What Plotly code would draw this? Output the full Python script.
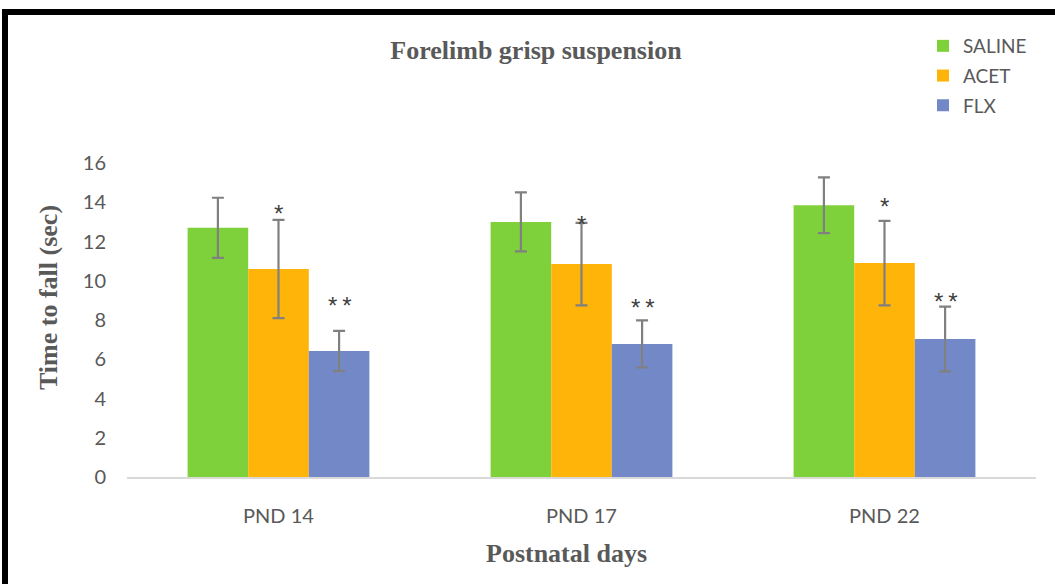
import plotly.graph_objects as go

categories = ["PND 14", "PND 17", "PND 22"]
series_names = ["SALINE", "ACET", "FLX"]
saline = [12.7, 13.0, 13.85]
acet = [10.6, 10.85, 10.9]
flx = [6.42, 6.78, 7.03]
saline_err = [1.53, 1.5, 1.42]
acet_err = [2.5, 2.1, 2.15]
flx_err = [1.03, 1.2, 1.65]
acet_sig = ["*", "*", "*"]
flx_sig = ["*\u2009*", "*\u2009*", "*\u2009*"]
y_ticks = [0, 2, 4, 6, 8, 10, 12, 14, 16]

# annotation heights
acet_sig_y = [13.45, 12.85, 13.8]
flx_sig_y = [8.72, 8.65, 8.95]

colors = ["#7FD13B", "#FFB40A", "#7389C7"]
values = [saline, acet, flx]
errors = [saline_err, acet_err, flx_err]

W, H = 1055, 584
L, R, T, B = 127, 19, 163, 107
pw, ph = W - L - R, H - T - B

def px(x):
    return (x - L) / pw

def py(y):
    return (H - B - y) / ph

fig = go.Figure()
for i, name in enumerate(series_names):
    fig.add_trace(go.Bar(
        x=categories, y=values[i], name=name,
        marker=dict(color=colors[i], line=dict(width=0)),
        error_y=dict(type="data", array=errors[i], visible=True,
                     color="#808080", thickness=2.2, width=6),
        legendgroup=name,
    ))

star_font = dict(family="Liberation Sans", size=24, color="#404040")
ann = []
bar_px = pw / 3 * 0.6 / 3
for j, c in enumerate(categories):
    ann.append(dict(x=c, y=acet_sig_y[j], xref="x", yref="y", text=acet_sig[j],
                    showarrow=False, font=star_font, yanchor="middle"))
    ann.append(dict(x=c, y=flx_sig_y[j], xref="x", yref="y", text=flx_sig[j], xshift=bar_px,
                    showarrow=False, font=star_font, yanchor="middle"))

serif = dict(family="Liberation Serif", size=26, color="#595959")
ann.append(dict(x=px(48), y=py(298), xref="paper", yref="paper", text="<b>Time to fall (sec)</b>",
                textangle=-90, showarrow=False, xanchor="center", yanchor="middle", font=serif))
ann.append(dict(x=px(566), y=py(553), xref="paper", yref="paper", text="<b>Postnatal days</b>",
                showarrow=False, xanchor="center", yanchor="middle", font=serif))

fig.update_layout(
    width=W, height=H,
    margin=dict(l=L, r=R, t=T, b=B),
    paper_bgcolor="white", plot_bgcolor="white",
    barmode="group", bargap=0.4, bargroupgap=0,
    title=dict(text="<b>Forelimb grisp suspension</b>", x=536 / W, xanchor="center",
               y=1 - 50 / H, yanchor="middle",
               font=dict(family="Liberation Serif", size=26, color="#595959")),
    legend=dict(x=px(923), y=py(27), xanchor="left", yanchor="top",
                font=dict(family="Lato", size=19, color="#595959"),
                traceorder="grouped", tracegroupgap=2, bgcolor="rgba(0,0,0,0)"),
    font=dict(family="Lato", size=20, color="#595959"),
    annotations=ann,
    shapes=[dict(type="rect", xref="paper", yref="paper",
                 x0=px(5), x1=px(1070), y0=py(12), y1=py(600),
                 line=dict(color="black", width=6))],
)
fig.update_xaxes(showline=True, linecolor="#D9D9D9", linewidth=1.5, ticks="",
                 ticklabelstandoff=20,
                 tickfont=dict(family="Lato", size=20, color="#595959"))
fig.update_yaxes(range=[0, 16], tickvals=y_ticks, showgrid=False, zeroline=False,
                 showline=False, ticks="", ticklabelstandoff=20,
                 tickfont=dict(family="Lato", size=20, color="#595959"))

fig.write_html("out.html")
